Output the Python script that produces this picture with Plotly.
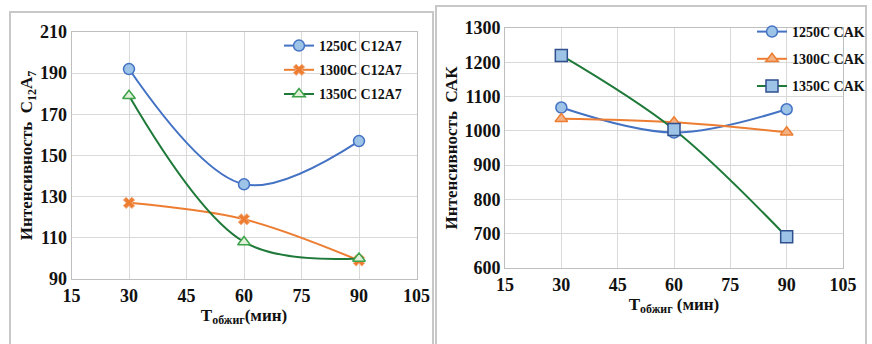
import plotly.graph_objects as go

W, H = 872, 344

# ---- data ----
times = [30, 60, 90]
left_names = ["1250C C12A7", "1300C C12A7", "1350C C12A7"]
left_1250 = [192, 136, 157]
left_1300 = [127, 119, 99]
left_1350 = [179, 108, 100]

right_names = ["1250C CAK", "1300C CAK", "1350C CAK"]
right_1250 = [1068, 995, 1063]
right_1300 = [1035, 1025, 996]
right_1350 = [1220, 1004, 691]

x_ticks = [15, 30, 45, 60, 75, 90, 105]
left_y_ticks = [90, 110, 130, 150, 170, 190, 210]
right_y_ticks = [600, 700, 800, 900, 1000, 1100, 1200, 1300]

SERIF = "Liberation Serif"
BLUE = "#4472C4"
LBLUE = "#9DC3E6"
ORANGE = "#ED7D31"
GREEN = "#1F7A3A"
DBLUE = "#2F4F8F"

def px(x):
    return x / W

def py(y):
    return 1 - y / H

fig = go.Figure()

fig.add_trace(go.Scatter(x=times, y=left_1250, name=left_names[0], mode="lines+markers",
                         line=dict(color=BLUE, width=2, shape="spline", smoothing=1),
                         marker=dict(symbol="circle", size=11, color=LBLUE, line=dict(color=BLUE, width=1.5)),
                         xaxis="x", yaxis="y", legend="legend", legendgroup="a"))
fig.add_trace(go.Scatter(x=times, y=left_1300, name=left_names[1], mode="lines+markers",
                         line=dict(color=ORANGE, width=2, shape="spline", smoothing=1),
                         marker=dict(symbol="x", size=10, color=ORANGE, line=dict(color="#F4B183", width=1)),
                         xaxis="x", yaxis="y", legend="legend", legendgroup="b"))
fig.add_trace(go.Scatter(x=times, y=left_1350, name=left_names[2], mode="lines+markers",
                         line=dict(color=GREEN, width=2, shape="spline", smoothing=1),
                         marker=dict(symbol="triangle-up", size=11, color="#E2F0D9", line=dict(color="#3CA34A", width=1.5)),
                         xaxis="x", yaxis="y", legend="legend", legendgroup="c"))

fig.add_trace(go.Scatter(x=times, y=right_1250, name=right_names[0], mode="lines+markers",
                         line=dict(color=BLUE, width=2, shape="spline", smoothing=1),
                         marker=dict(symbol="circle", size=11, color=LBLUE, line=dict(color=BLUE, width=1.5)),
                         xaxis="x2", yaxis="y2", legend="legend2", legendgroup="d"))
fig.add_trace(go.Scatter(x=times, y=right_1300, name=right_names[1], mode="lines+markers",
                         line=dict(color=ORANGE, width=2, shape="spline", smoothing=1),
                         marker=dict(symbol="triangle-up", size=11, color="#F4B183", line=dict(color=ORANGE, width=1.5)),
                         xaxis="x2", yaxis="y2", legend="legend2", legendgroup="e"))
fig.add_trace(go.Scatter(x=times, y=right_1350, name=right_names[2], mode="lines+markers",
                         line=dict(color=GREEN, width=2, shape="spline", smoothing=1),
                         marker=dict(symbol="square", size=12, color=LBLUE, line=dict(color=DBLUE, width=1.5)),
                         xaxis="x2", yaxis="y2", legend="legend2", legendgroup="f"))

tickfont = dict(family=SERIF, size=18, color="#111111", weight="bold")
titlefont = dict(family=SERIF, size=17, color="#111111", weight="bold")
grid = "#D9D9D9"

common_x = dict(range=[15, 105], tickvals=x_ticks, showgrid=True, gridcolor=grid, gridwidth=1,
                zeroline=False, showline=True, linecolor="#BFBFBF", mirror=True, ticks="",
                tickfont=tickfont, fixedrange=True, automargin=False)
common_y = dict(showgrid=True, gridcolor=grid, gridwidth=1, zeroline=False, showline=True,
                linecolor="#BFBFBF", mirror=True, ticks="", tickfont=tickfont, fixedrange=True,
                automargin=False)

legend_font = dict(family=SERIF, size=14, color="#111111", weight="bold")

fig.update_layout(
    width=W, height=H,
    margin=dict(l=0, r=0, t=0, b=0, autoexpand=False),
    paper_bgcolor="white", plot_bgcolor="white",
    showlegend=True,
    xaxis=dict(domain=[px(71.5), px(416.5)], anchor="y", **common_x,
               title=dict(text="T<sub>обжиг</sub>(мин)", font=titlefont, standoff=2)),
    yaxis=dict(domain=[py(279), py(32)], anchor="x", range=[90, 210], tickvals=left_y_ticks, **common_y,
               title=dict(text="Интенсивность  C<sub>12</sub>A<sub>7</sub>", font=titlefont, standoff=2)),
    xaxis2=dict(domain=[px(505), px(843)], anchor="y2", **common_x,
                title=dict(text="T<sub>обжиг</sub> (мин)", font=titlefont, standoff=2)),
    yaxis2=dict(domain=[py(268), py(28)], anchor="x2", range=[600, 1300], tickvals=right_y_ticks, **common_y,
                title=dict(text="Интенсивность  САК", font=titlefont, standoff=2)),
    legend=dict(x=px(279), y=py(30), font=legend_font, bgcolor="rgba(255,255,255,0)", borderwidth=0,
                tracegroupgap=3, xanchor="left", yanchor="top", itemwidth=30),
    legend2=dict(x=px(752), y=py(16), font=legend_font, bgcolor="rgba(255,255,255,0)", borderwidth=0,
                 tracegroupgap=6, xanchor="left", yanchor="top", itemwidth=30),
    shapes=[
        dict(type="rect", xref="paper", yref="paper", x0=px(10), x1=px(433), y0=py(352), y1=py(12),
             line=dict(color="#C8C8C8", width=2), fillcolor="rgba(0,0,0,0)", layer="below"),
        dict(type="rect", xref="paper", yref="paper", x0=px(436), x1=px(866), y0=py(352), y1=py(6),
             line=dict(color="#C8C8C8", width=2), fillcolor="rgba(0,0,0,0)", layer="below"),
    ],
)

fig.write_html("out.html", config={"displayModeBar": False},
               post_script="document.body.style.margin='0';")
